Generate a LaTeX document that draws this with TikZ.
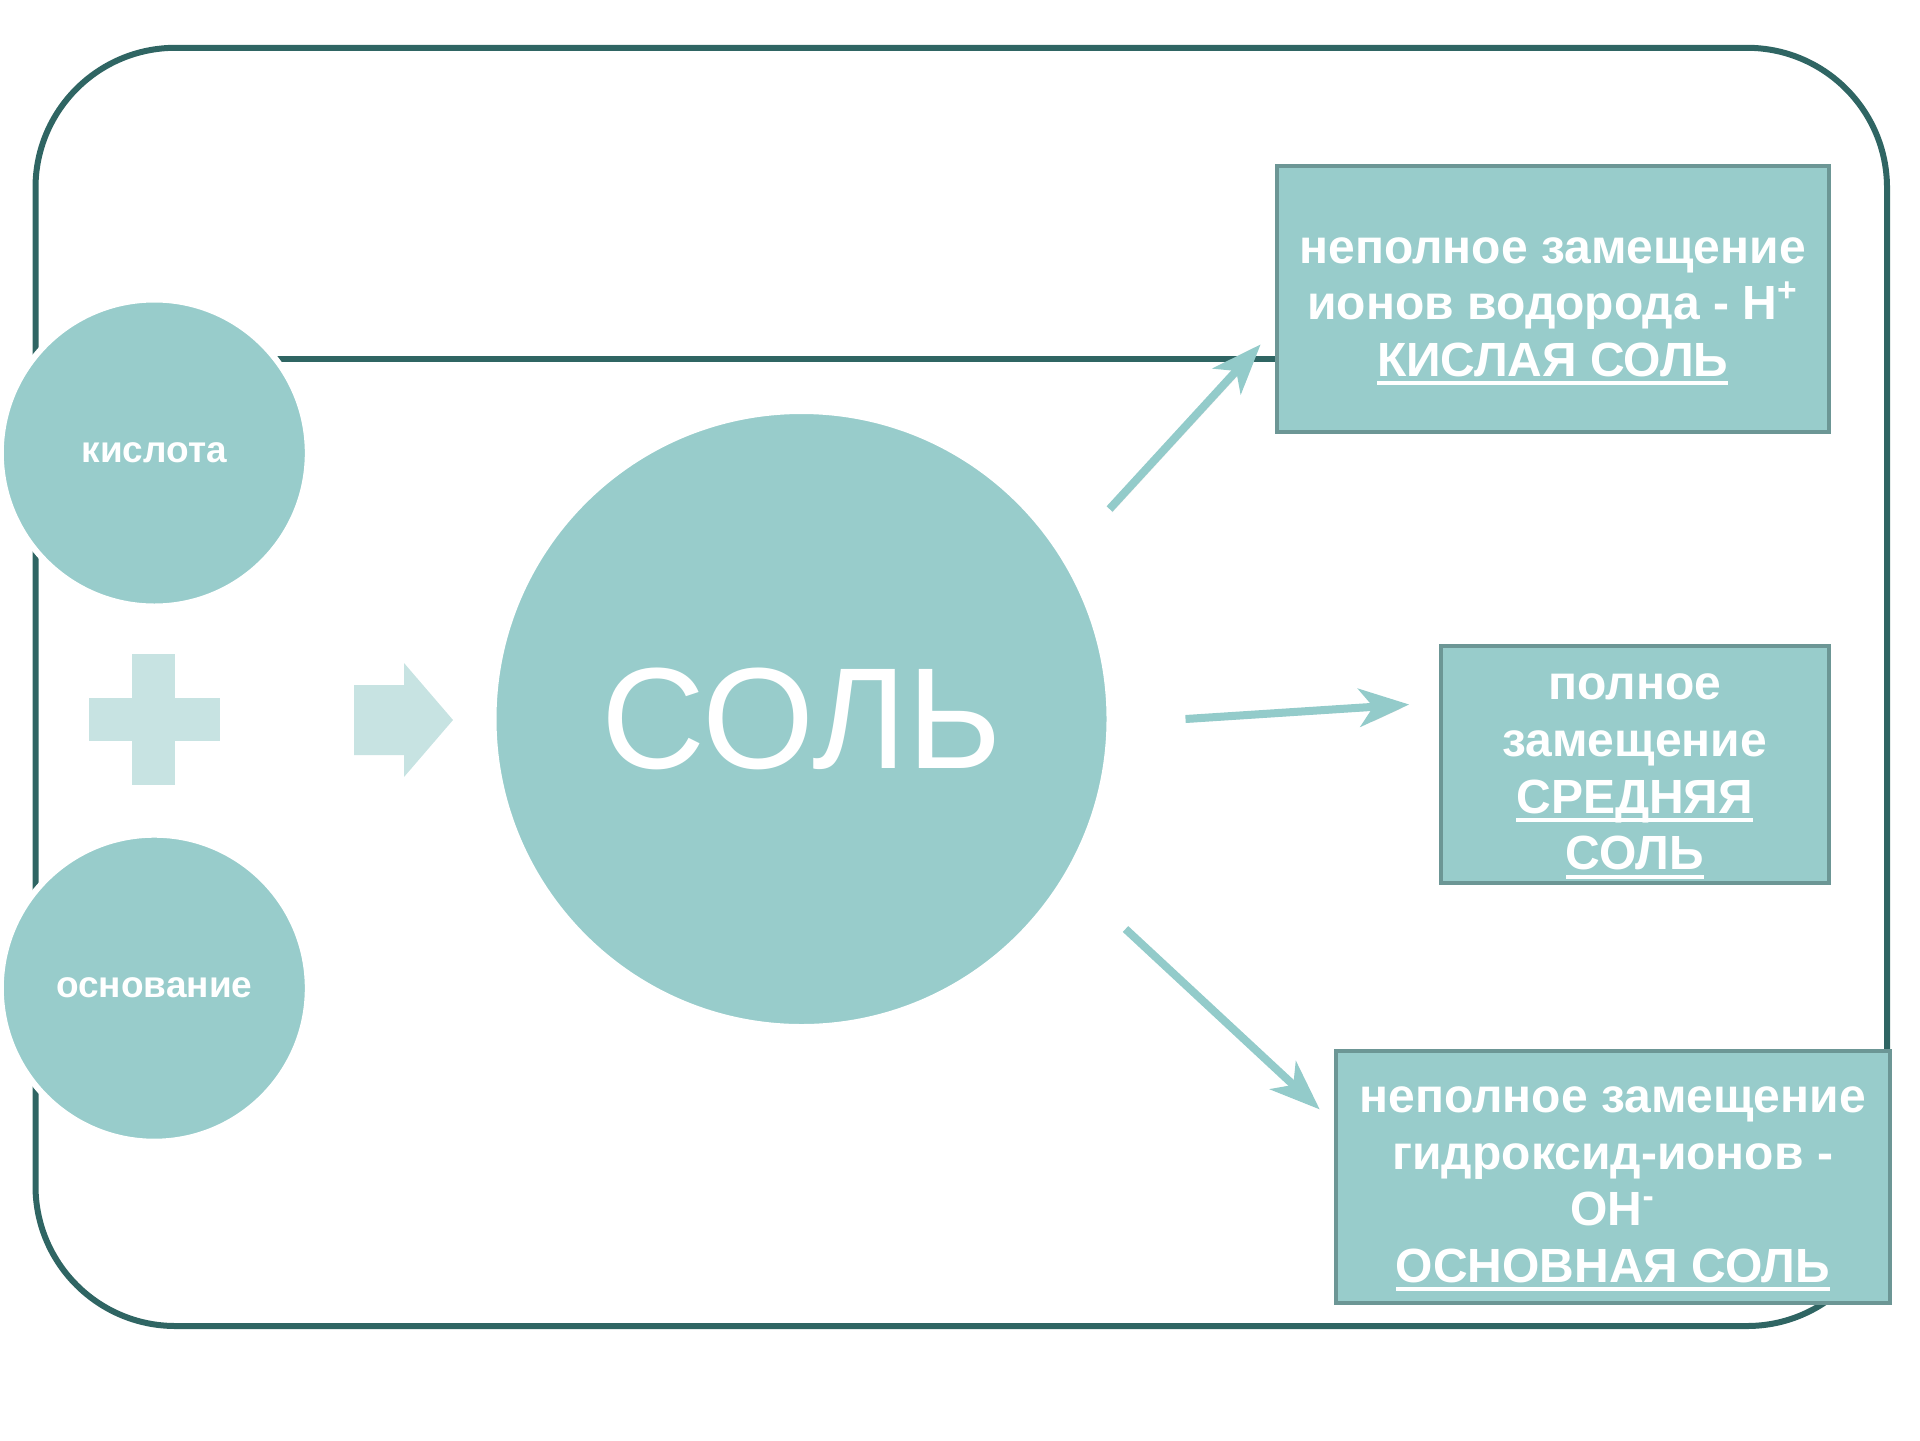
\documentclass[tikz,border=0pt]{standalone}
\usepackage{fontspec}
\setmainfont{Liberation Sans}
\usetikzlibrary{arrows.meta,backgrounds}

\definecolor{tealfill}{HTML}{98CCCB}
\definecolor{framedark}{HTML}{2F6563}
\definecolor{boxedge}{HTML}{6C9695}
\definecolor{paleteal}{HTML}{C7E3E2}
\definecolor{arrowteal}{HTML}{93CBCA}

\newsavebox{\undlbox}
\newcommand{\undl}[1]{\sbox{\undlbox}{#1}\rlap{\rule[-4.5pt]{\wd\undlbox}{2pt}}\usebox{\undlbox}}

\begin{document}
\begin{tikzpicture}[x=0.5pt, y=-0.5pt,
    frameline/.style={draw=framedark, line width=3pt},
    reagent/.style={circle, draw=white, line width=3pt, fill=tealfill, text=white, minimum size=153.5pt, inner sep=0pt, font=\fontsize{18.5}{21}\selectfont\bfseries},
    saltcircle/.style={circle, draw=white, line width=3pt, fill=tealfill, text=white, minimum size=308pt, inner sep=0pt, font=\fontsize{72}{80}\selectfont},
    block/.style={rectangle, draw=boxedge, line width=2pt, fill=tealfill, text=white, align=center, inner sep=0pt, text depth=0pt, font=\fontsize{24}{28.3}\selectfont\bfseries},
    line/.style={draw=arrowteal, line width=4pt, -{Stealth[length=25pt, width=19pt, inset=7pt]},
        preaction={draw=black!50, opacity=0.2, transform canvas={shift={(1.2pt,-1.6pt)}}}}]

    \useasboundingbox (0,0) rectangle (1920,1440);

    % reagents and the salt
    \node [reagent] (acid) at (154.3,453) {кислота};
    \node [reagent] (base) at (154.3,988.2) {основание};
    \node [saltcircle] (salt) at (801.5,719) {СОЛЬ};

    % plus and block arrow
    \fill [paleteal] (89.4,698) rectangle (220.4,740.8);
    \fill [paleteal] (132.2,654) rectangle (175.1,785);
    \fill [paleteal] (354,685) -- (404,685) -- (404,663) -- (453,720) -- (404,777) -- (404,755) -- (354,755) -- cycle;

    % kinds of salt
    \node [block, minimum width=276pt, minimum height=133pt, text height=76.8pt] (acidsalt) at (1552.6,299.4)
        {неполное замещение\\ионов водорода - H\textsuperscript{+}\\\undl{КИСЛАЯ СОЛЬ}};
    \node [block, minimum width=194pt, minimum height=118.5pt, text height=105.2pt] (midsalt) at (1634.7,764.5)
        {полное\\замещение\\\undl{СРЕДНЯЯ}\\\undl{СОЛЬ}};
    \node [block, minimum width=277pt, minimum height=126pt, text height=104.9pt] (basesalt) at (1612.7,1177.4)
        {неполное замещение\\гидроксид-ионов -\\OH\textsuperscript{-}\\\undl{ОСНОВНАЯ СОЛЬ}};

    \begin{pgfonlayer}{background}
        \draw [frameline, rounded corners=70pt] (35.5,47.8) rectangle (1887,1326);
        \coordinate (bar) at (0,359);
        \draw [frameline] (acid.center |- bar) -- (acidsalt.west |- bar);
    \end{pgfonlayer}

    \path [line] ([shift={(154pt,105pt)}]salt.center) -- ([shift={(-7pt,45pt)}]acidsalt.south west);
    \path [line] ([shift={(192pt,0pt)}]salt.center) -- ([shift={(-14.75pt,30pt)}]midsalt.west);
    \path [line] ([shift={(162pt,-105pt)}]salt.center) -- ([shift={(-7pt,-30pt)}]basesalt.north west);
\end{tikzpicture}
\end{document}
